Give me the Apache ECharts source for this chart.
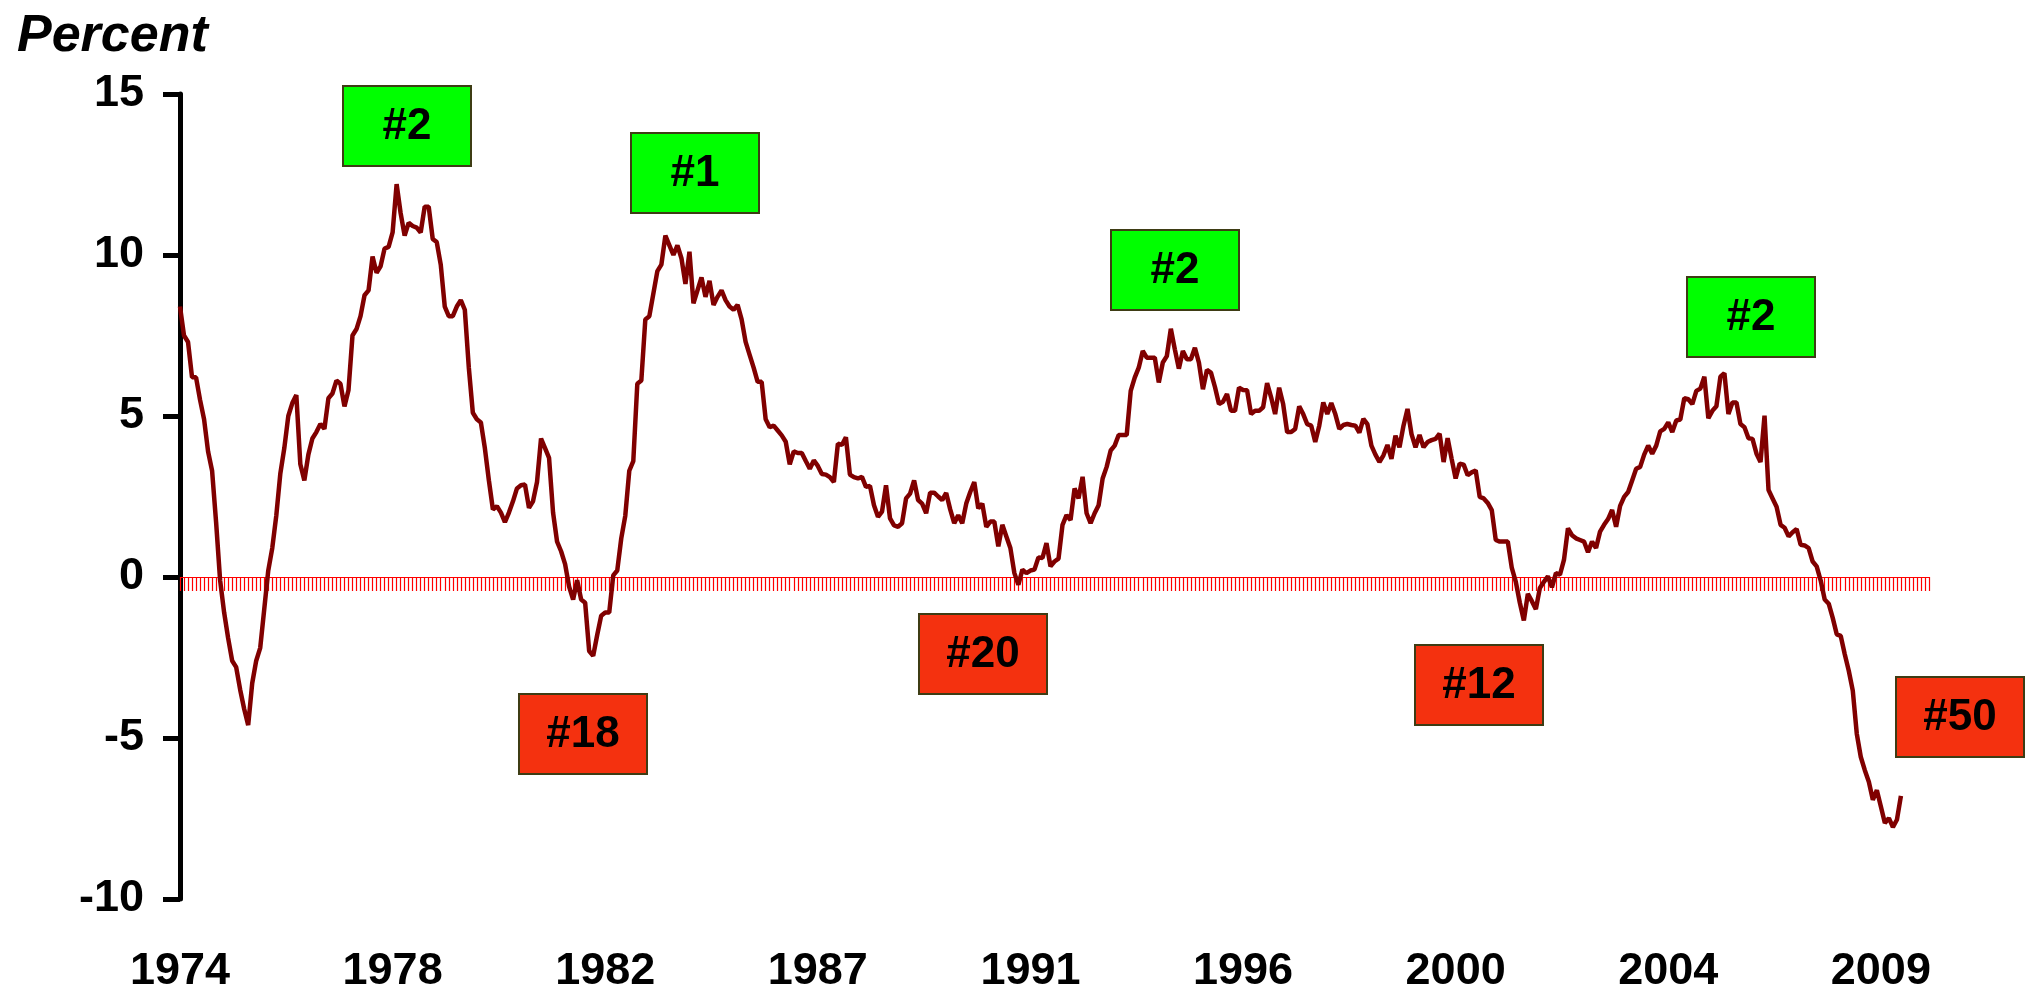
<!DOCTYPE html>
<html>
<head>
<meta charset="utf-8">
<title>Percent</title>
<script src="https://cdn.jsdelivr.net/npm/echarts@6.0.0/dist/echarts.min.js"></script>
<style>
  html, body { margin: 0; padding: 0; background: #fff; }
  #chart { width: 2030px; height: 1002px; }
</style>
</head>
<body>
<div id="chart"></div>
<script>
// monthly readings, Jan 1974 onward, percent
const startYear = 1974
const monthCount = 437 // axis runs a few months past the last reading

const pctChange = [
  8.4, 7.5, 7.3, 6.2, 6.2, 5.5, 4.9, 3.9, 3.3, 1.7, -0.1, -1.1,
  -1.9, -2.6, -2.8, -3.5, -4.1, -4.6, -3.3, -2.6, -2.2, -1.0, 0.2, 0.9,
  1.9, 3.2, 4.0, 5.0, 5.4, 5.65, 3.5, 3.0, 3.8, 4.3, 4.5, 4.75,
  4.6, 5.55, 5.7, 6.1, 6.0, 5.3, 5.8, 7.5, 7.7, 8.1, 8.75, 8.9,
  9.95, 9.45, 9.65, 10.2, 10.25, 10.7, 12.2, 11.3, 10.6, 11.0, 10.9, 10.85,
  10.7, 11.5, 11.5, 10.5, 10.4, 9.7, 8.4, 8.1, 8.1, 8.4, 8.6, 8.3,
  6.5, 5.1, 4.9, 4.8, 4.0, 3.0, 2.1, 2.2, 2.0, 1.7, 2.0, 2.35,
  2.75, 2.85, 2.87, 2.15, 2.35, 2.95, 4.3, 4.0, 3.7, 2.0, 1.1, 0.8,
  0.4, -0.3, -0.7, -0.1, -0.7, -0.8, -2.3, -2.45, -1.8, -1.2, -1.1, -1.1,
  0.05, 0.2, 1.2, 1.9, 3.3, 3.6, 6.0, 6.1, 8.0, 8.1, 8.8, 9.5,
  9.7, 10.6, 10.3, 10.0, 10.3, 9.9, 9.1, 10.1, 8.5, 8.9, 9.3, 8.7,
  9.2, 8.45, 8.7, 8.9, 8.6, 8.4, 8.3, 8.45, 8.0, 7.3, 6.9, 6.5,
  6.06, 6.06, 4.9, 4.65, 4.7, 4.55, 4.4, 4.2, 3.5, 3.9, 3.85, 3.85,
  3.6, 3.36, 3.62, 3.45, 3.2, 3.18, 3.1, 2.95, 4.14, 4.1, 4.34, 3.18,
  3.1, 3.06, 3.11, 2.8, 2.83, 2.23, 1.87, 2.03, 2.85, 1.82, 1.6, 1.56,
  1.67, 2.44, 2.59, 3.0, 2.39, 2.28, 1.98, 2.62, 2.62, 2.5, 2.39, 2.61,
  2.1, 1.67, 1.92, 1.67, 2.28, 2.64, 2.95, 2.13, 2.28, 1.56, 1.72, 1.72,
  0.95, 1.62, 1.26, 0.9, 0.12, -0.24, 0.23, 0.12, 0.2, 0.23, 0.61, 0.59,
  1.05, 0.33, 0.48, 0.57, 1.62, 1.92, 1.77, 2.75, 2.44, 3.11, 1.98, 1.67,
  1.98, 2.23, 3.06, 3.42, 3.93, 4.08, 4.41, 4.41, 4.41, 5.78, 6.19, 6.5,
  7.02, 6.81, 6.81, 6.81, 6.04, 6.66, 6.86, 7.71, 7.07, 6.47, 7.02, 6.76,
  6.76, 7.12, 6.66, 5.83, 6.43, 6.35, 5.9, 5.37, 5.44, 5.68, 5.16, 5.16,
  5.88, 5.81, 5.8, 5.06, 5.16, 5.16, 5.27, 6.02, 5.58, 5.06, 5.88, 5.37,
  4.5, 4.5, 4.6, 5.3, 5.06, 4.75, 4.7, 4.19, 4.7, 5.42, 5.06, 5.4,
  5.06, 4.6, 4.72, 4.75, 4.72, 4.7, 4.48, 4.91, 4.75, 4.08, 3.8, 3.57,
  3.78, 4.1, 3.67, 4.39, 4.03, 4.7, 5.22, 4.44, 4.03, 4.41, 4.03, 4.19,
  4.25, 4.29, 4.45, 3.57, 4.31, 3.67, 3.06, 3.52, 3.49, 3.16, 3.25, 3.31,
  2.49, 2.44, 2.3, 2.08, 1.15, 1.1, 1.1, 1.1, 0.28, -0.15, -0.8, -1.35,
  -0.52, -0.75, -1.0, -0.34, -0.15, 0.02, -0.32, 0.12, 0.07, 0.53, 1.51, 1.3,
  1.2, 1.15, 1.1, 0.77, 1.1, 0.9, 1.41, 1.62, 1.8, 2.08, 1.56, 2.21,
  2.49, 2.64, 3.0, 3.36, 3.42, 3.8, 4.08, 3.83, 4.08, 4.52, 4.6, 4.8,
  4.5, 4.86, 4.89, 5.55, 5.52, 5.37, 5.78, 5.85, 6.22, 4.93, 5.16, 5.3,
  6.22, 6.33, 5.06, 5.42, 5.42, 4.75, 4.65, 4.31, 4.29, 3.83, 3.57, 5.01,
  2.7, 2.44, 2.18, 1.62, 1.53, 1.26, 1.39, 1.49, 1.0, 0.98, 0.9, 0.48,
  0.33, -0.11, -0.7, -0.83, -1.27, -1.78, -1.83, -2.4, -2.91, -3.53, -4.87, -5.59,
  -6.0, -6.36, -6.92, -6.62, -7.13, -7.64, -7.49, -7.77, -7.54, -6.8
]

const yTicks = { min: -10, max: 15, step: 5 }
const peakLabels = ['#2', '#1', '#2', '#2']
const troughLabels = ['#18', '#20', '#12', '#50']

const months = []
for (let i = 0; i < monthCount; i++) {
  const yr = startYear + Math.floor(i / 12)
  months.push(yr + '-' + String((i % 12) + 1).padStart(2, '0'))
}

const FONT = '"Liberation Sans", Arial, sans-serif'

// box layout (top-left corners, px)
const peakBoxes = [[343, 86], [631, 133], [1111, 230], [1687, 277]]
const troughBoxes = [[519, 694], [919, 614], [1415, 645], [1896, 677]]

function box(pos, text, fill) {
  return {
    type: 'group',
    x: pos[0],
    y: pos[1],
    children: [
      {
        type: 'rect',
        shape: { x: 0, y: 0, width: 128, height: 80 },
        style: { fill: fill, stroke: '#3e3c14', lineWidth: 2 }
      },
      {
        type: 'text',
        x: 64,
        y: 41,
        style: {
          text: text,
          fill: '#000',
          font: 'bold 44px ' + FONT,
          textAlign: 'center',
          textVerticalAlign: 'middle',
          align: 'center',
          verticalAlign: 'middle'
        }
      }
    ]
  }
}

const graphics = []
peakLabels.forEach((t, i) => graphics.push(box(peakBoxes[i], t, '#00ff00')))
troughLabels.forEach((t, i) => graphics.push(box(troughBoxes[i], t, '#f4310f')))

const chart = echarts.init(document.getElementById('chart'))

chart.setOption({
  animation: false,
  backgroundColor: '#fff',
  title: {
    text: 'Percent',
    left: 12,
    top: 6,
    textStyle: {
      fontFamily: FONT,
      fontSize: 52,
      fontWeight: 'bold',
      fontStyle: 'italic',
      color: '#000'
    }
  },
  grid: { left: 180, right: 101, top: 94, bottom: 103, outerBoundsMode: 'none' },
  xAxis: [
    {
      // year labels along the bottom
      type: 'category',
      data: months,
      boundaryGap: false,
      position: 'bottom',
      axisLine: { show: false, onZero: false },
      axisTick: { show: false },
      axisLabel: {
        interval: 52,
        margin: 50,
        fontFamily: FONT,
        fontSize: 45,
        fontWeight: 'bold',
        color: '#000',
        formatter: (v) => v.slice(0, 4)
      },
      splitLine: { show: false }
    },
    {
      // red zero line with a tick per month
      type: 'category',
      data: months,
      boundaryGap: false,
      position: 'bottom',
      axisLine: { show: true, onZero: true, lineStyle: { color: '#ff0000', width: 1 } },
      axisTick: { show: true, interval: 0, length: 14, lineStyle: { color: '#ff0000', width: 1.2 } },
      axisLabel: { show: false },
      splitLine: { show: false }
    }
  ],
  yAxis: {
    type: 'value',
    min: yTicks.min,
    max: yTicks.max,
    interval: yTicks.step,
    axisLine: { show: true, onZero: false, lineStyle: { color: '#000', width: 5 } },
    axisTick: { show: true, length: 17, lineStyle: { color: '#000', width: 5 } },
    axisLabel: {
      margin: 36,
      fontFamily: FONT,
      fontSize: 45,
      fontWeight: 'bold',
      color: '#000'
    },
    splitLine: { show: false }
  },
  series: [
    {
      type: 'line',
      data: pctChange,
      xAxisIndex: 0,
      showSymbol: false,
      symbol: 'none',
      lineStyle: { color: '#800000', width: 4.5 },
      z: 3
    }
  ],
  graphic: graphics
})
</script>
</body>
</html>
